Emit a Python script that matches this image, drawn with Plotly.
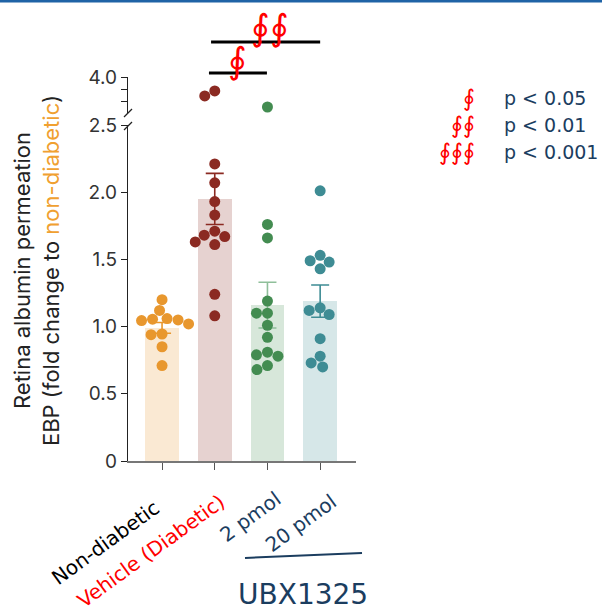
import numpy as np
import plotly.graph_objects as go

# ---------------- data ----------------
categories = ["Non-diabetic", "Vehicle (Diabetic)", "2 pmol", "20 pmol"]
non_diabetic = [1.20, 1.12, 1.06, 1.055, 1.05, 1.045, 1.02, 0.945, 0.94, 0.85, 0.71]
vehicle = [3.42, 3.21, 2.21, 2.07, 1.93, 1.83, 1.71, 1.68, 1.67, 1.63, 1.61, 1.24, 1.08]
ubx_2pmol = [2.75, 1.76, 1.66, 1.19, 1.10, 1.10, 1.01, 0.92, 0.81, 0.79, 0.78, 0.71, 0.68]
ubx_20pmol = [2.01, 1.53, 1.49, 1.48, 1.43, 1.14, 1.12, 1.09, 0.91, 0.78, 0.73, 0.70]
group_means = [0.99, 1.95, 1.16, 1.19]
group_sem = [0.04, 0.19, 0.17, 0.12]
lower_ticks = [0, 0.5, 1.0, 1.5, 2.0, 2.5]
lower_ticktext = ["0", "0.5", "1.0", "1.5", "2.0", "2.5"]
upper_ticks = [3.0, 3.5, 4.0]
upper_ticktext = ["", "", "4.0"]
legend_symbols = ["\u222e", "\u222e\u222e", "\u222e\u222e\u222e"]
legend_labels = ["p < 0.05", "p < 0.01", "p < 0.001"]

groups = [non_diabetic, vehicle, ubx_2pmol, ubx_20pmol]
dot_colors = ["#E8972E", "#8B2A22", "#438C51", "#3E8C94"]
bar_colors = ["rgba(232,151,46,0.21)", "rgba(139,42,34,0.21)",
              "rgba(67,140,81,0.21)", "rgba(62,140,148,0.21)"]
err_colors = ["#E8972E", "#8B2A22", "#8FBF9A", "#3E8C94"]
NAVY = "#1B3D5F"
FONT = "Inter"
LABEL_FONT = "DejaVu Sans"

# ---------------- geometry ----------------
W, H = 602, 612
ML, MR, MT, MB = 128, 246, 77, 151
PW, PH = W - ML - MR, H - MT - MB
XR = [-0.646, 3.68]
LOW_DOM = [0, 336 / PH]
UP_DOM = [348 / PH, 1]
LOW_R = [0, 2.5]
UP_R = [2.5, 4.0]
BREAK = 2.5

ppu_x = PW / (XR[1] - XR[0])
ppu_low = (LOW_DOM[1] - LOW_DOM[0]) * PH / (LOW_R[1] - LOW_R[0])
ppu_up = (UP_DOM[1] - UP_DOM[0]) * PH / (UP_R[1] - UP_R[0])
DIAM = 11.0


def swarm(vals, ppu_y):
    placed, out = [], []
    cands = sorted(np.arange(-45, 45.5, 0.5), key=lambda c: (abs(c), c))
    for v in vals:
        y = v * ppu_y
        for c in cands:
            if all((c - px) ** 2 + (y - py) ** 2 >= DIAM ** 2 for px, py in placed):
                placed.append((c, y))
                out.append(c / ppu_x)
                break
    return out


fig = go.Figure()

# bars
fig.add_trace(go.Bar(x=list(range(4)), y=group_means, width=0.64,
                     marker=dict(color=bar_colors, line=dict(width=0)),
                     hoverinfo="skip"))

# error bars
for i in range(4):
    fig.add_trace(go.Scatter(x=[i], y=[group_means[i]], mode="markers",
                             marker=dict(size=1, opacity=0),
                             error_y=dict(type="data", array=[group_sem[i]],
                                          color=err_colors[i], thickness=1.6, width=9),
                             hoverinfo="skip"))

# dots
for i, vals in enumerate(groups):
    low = [v for v in vals if v <= BREAK]
    up = [v for v in vals if v > BREAK]
    if low:
        off = swarm(low, ppu_low)
        fig.add_trace(go.Scatter(x=[i + o for o in off], y=low, mode="markers",
                                 marker=dict(size=11, color=dot_colors[i], line=dict(width=0))))
    if up:
        off = swarm(up, ppu_up)
        fig.add_trace(go.Scatter(x=[i + o for o in off], y=up, mode="markers", yaxis="y2",
                                 marker=dict(size=11, color=dot_colors[i], line=dict(width=0))))

shapes = []
def px_to_paper(px, py):
    return (px - ML) / PW, (H - MB - py) / PH

# top blue rule
x0, y0 = px_to_paper(0, 1)
x1, _ = px_to_paper(W, 1)
shapes.append(dict(type="line", xref="paper", yref="paper", x0=x0, x1=x1, y0=y0, y1=y0,
                   line=dict(color="#1F63A6", width=3)))
# axis break slashes
for (ax, ay, bx, by) in [(124, 117, 132, 109), (124, 130, 132, 122)]:
    a = px_to_paper(ax, ay)
    b = px_to_paper(bx, by)
    shapes.append(dict(type="line", xref="paper", yref="paper", x0=a[0], y0=a[1], x1=b[0], y1=b[1],
                       line=dict(color="#222", width=1.2)))
# significance bars
sig_y_hi = px_to_paper(0, 42)[1]
sig_y_lo = px_to_paper(0, 73)[1]
shapes.append(dict(type="line", xref="x", yref="paper", x0=0.93, x1=3.0, y0=sig_y_hi, y1=sig_y_hi,
                   line=dict(color="black", width=3)))
shapes.append(dict(type="line", xref="x", yref="paper", x0=0.89, x1=1.99, y0=sig_y_lo, y1=sig_y_lo,
                   line=dict(color="black", width=3)))
# UBX1325 bracket line
a = px_to_paper(245, 558)
b = px_to_paper(362, 553)
shapes.append(dict(type="line", xref="paper", yref="paper", x0=a[0], y0=a[1], x1=b[0], y1=b[1],
                   line=dict(color=NAVY, width=2)))

ann = []
def add_text(text, px, py, size, color, font=FONT, angle=0, xanchor="center"):
    x, y = px_to_paper(px, py)
    ann.append(dict(text=text, x=x, y=y, xref="paper", yref="paper", showarrow=False,
                    textangle=angle, xanchor=xanchor, yanchor="middle",
                    font=dict(size=size, color=color, family=font)))

# y title
add_text("Retina albumin permeation<br>EBP (fold change to <span style='color:#F0A030'>non-diabetic</span>)",
         36, 271, 22, "#222", angle=-90)
# category labels
cat_pos = [(105, 543), (151, 551), (250, 517), (301, 523)]
cat_cols = ["black", "#FF0000", NAVY, NAVY]
for (cx, cy), lab, col in zip(cat_pos, categories, cat_cols):
    add_text(lab, cx, cy, 20, col, font=LABEL_FONT, angle=-36)
add_text("UBX1325", 303, 594, 28, NAVY, font=LABEL_FONT)
# significance symbols
add_text("\u222e\u222e", 270, 27, 36, "#FF0000", font="DejaVu Serif")
add_text("\u222e", 237, 60, 36, "#FF0000", font="DejaVu Serif")
# p-value legend
for k, (sym, lab) in enumerate(zip(legend_symbols, legend_labels)):
    yy = 98 + 27 * k
    add_text(sym, 477, yy, 23, "#FF0000", font="DejaVu Serif", xanchor="right")
    add_text(lab, 502, yy, 19, NAVY, font=LABEL_FONT, xanchor="left")

fig.update_layout(
    width=W, height=H, margin=dict(l=ML, r=MR, t=MT, b=MB),
    paper_bgcolor="white", plot_bgcolor="white", showlegend=False,
    bargap=0,
    xaxis=dict(range=XR, tickvals=[0, 1, 2, 3], showticklabels=False, ticks="outside",
               ticklen=7, tickwidth=1.2, tickcolor="#555", showline=True, linecolor="#777",
               linewidth=1.5, showgrid=False, zeroline=False, anchor="y", fixedrange=True),
    yaxis=dict(domain=LOW_DOM, range=LOW_R, tickvals=lower_ticks, ticktext=lower_ticktext,
               ticks="outside", ticklen=6, tickwidth=1.2, tickcolor="#222", showline=True,
               linecolor="#222", linewidth=1.2, showgrid=False, zeroline=False,
               tickfont=dict(family=FONT, size=19, color="#333"), anchor="x"),
    yaxis2=dict(domain=UP_DOM, range=UP_R, tickvals=upper_ticks, ticktext=upper_ticktext,
                ticks="outside", ticklen=6, tickwidth=1.2, tickcolor="#222", showline=True,
                linecolor="#222", linewidth=1.2, showgrid=False, zeroline=False,
                tickfont=dict(family=FONT, size=19, color="#333"), anchor="x"),
    shapes=shapes, annotations=ann,
)

fig.write_html("out.html", config={"displayModeBar": False},
               post_script="document.body.style.margin='0';document.body.style.overflow='hidden';")
